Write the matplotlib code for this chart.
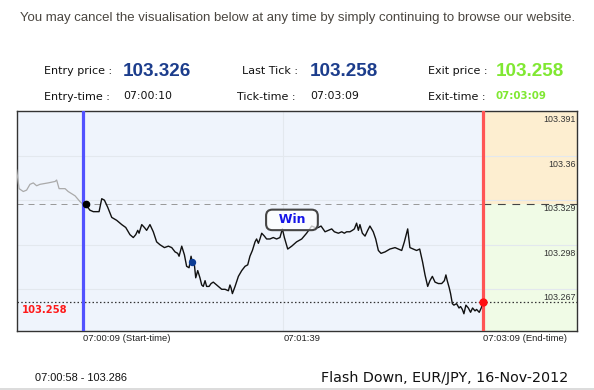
import matplotlib
matplotlib.use("Agg")
import matplotlib.pyplot as plt

# seconds relative to 07:00:09 (start-time)
pre_t = [-30.0, -28.9, -27.0, -25.5, -24.0, -22.5, -21.0, -19.5, -15.8, -12.7,
         -12.0, -10.9, -8.2, -6.8, -3.7, -1.5, 0.0]
pre_p = [103.350, 103.337, 103.335, 103.336, 103.340, 103.341, 103.339, 103.340,
         103.341, 103.342, 103.343, 103.337, 103.337, 103.335, 103.332, 103.328, 103.326]

tick_t = [1.0, 3.0, 4.5, 6.0, 7.1, 8.3, 9.5, 11.0, 12.8, 15.0, 16.5, 17.3, 19.1,
          21.0, 22.5, 23.6, 24.5, 25.1, 26.3, 27.5, 28.5, 30.0, 31.5, 33.0, 34.5,
          36.5, 38.3, 39.8, 41.3, 42.5, 43.1, 44.3, 45.5, 46.5, 47.6, 48.5, 49.0,
          50.0, 50.6, 51.5, 52.5, 53.3, 54.0, 54.8, 55.5, 56.6, 57.5, 58.5, 60.0,
          61.5, 62.3, 63.8, 65.3, 66.0, 66.5, 67.1, 68.3, 69.8, 71.3, 72.8, 74.0,
          75.0, 76.1, 77.3, 78.0, 78.8, 79.5, 80.3, 81.5, 82.5, 84.0, 85.5, 87.0,
          88.5, 89.6, 90.5, 92.0, 93.8, 96.0, 98.3, 100.5, 102.8, 104.3, 105.8,
          107.0, 108.8, 110.3, 111.8, 113.0, 114.8, 116.3, 117.5, 118.5, 120.0,
          121.1, 122.0, 123.0, 123.8, 124.5, 125.6, 126.8, 128.0, 129.0, 130.5,
          131.6, 132.8, 134.0, 135.8, 138.0, 140.3, 141.8, 143.3, 144.5, 146.0,
          147.0, 148.5, 150.0, 151.4, 152.7, 153.8, 155.0, 156.0, 157.1, 158.3,
          159.8, 161.3, 162.5, 163.2, 163.8, 164.7, 165.3, 166.1, 166.8, 168.0,
          169.1, 169.8, 170.6, 171.3, 172.2, 173.3, 174.3, 175.2, 176.3, 177.0,
          178.2, 179.1, 180.0]
tick_p = [103.326, 103.322, 103.321, 103.321, 103.321, 103.330, 103.329, 103.324,
          103.317, 103.315, 103.313, 103.312, 103.310, 103.305, 103.303, 103.305,
          103.308, 103.306, 103.312, 103.310, 103.308, 103.312, 103.307, 103.300,
          103.298, 103.296, 103.297, 103.296, 103.293, 103.292, 103.290, 103.297,
          103.291, 103.283, 103.282, 103.290, 103.286, 103.284, 103.275, 103.280,
          103.275, 103.270, 103.269, 103.273, 103.269, 103.269, 103.271, 103.272,
          103.270, 103.268, 103.267, 103.267, 103.266, 103.270, 103.268, 103.264,
          103.269, 103.276, 103.280, 103.283, 103.284, 103.290, 103.294, 103.300,
          103.302, 103.299, 103.302, 103.306, 103.304, 103.302, 103.302, 103.303,
          103.302, 103.303, 103.309, 103.303, 103.295, 103.297, 103.300, 103.302,
          103.306, 103.311, 103.310, 103.310, 103.311, 103.307, 103.308, 103.309,
          103.307, 103.306, 103.307, 103.306, 103.307, 103.307, 103.308, 103.309,
          103.313, 103.308, 103.312, 103.306, 103.304, 103.308, 103.311, 103.307,
          103.302, 103.294, 103.292, 103.293, 103.295, 103.296, 103.295, 103.294,
          103.300, 103.309, 103.296, 103.295, 103.294, 103.295, 103.286, 103.277,
          103.269, 103.273, 103.276, 103.272, 103.271, 103.271, 103.273, 103.277,
          103.273, 103.268, 103.264, 103.257, 103.256, 103.257, 103.254, 103.255,
          103.253, 103.250, 103.256, 103.254, 103.251, 103.254, 103.252, 103.253,
          103.251, 103.254, 103.258]

start_t, end_t = 0, 180
entry_t, entry_price, entry_time = 1, 103.326, "07:00:10"
exit_price, exit_time = 103.258, "07:03:09"
last_tick, tick_time = 103.258, "07:03:09"
hover_t, hover_p, hover_time = 49, 103.286, "07:00:58"

x_ticks = [0, 90, 180]
x_labels = ["07:00:09 (Start-time)", "07:01:39", "07:03:09 (End-time)"]
y_ticks = [103.267, 103.298, 103.329, 103.36, 103.391]
y_labels = ["103.267", "103.298", "103.329", "103.36", "103.391"]

W, H = 594, 390
fig = plt.figure(figsize=(W / 100, H / 100), dpi=100)
fig.patch.set_facecolor("white")
ax = fig.add_axes([17 / W, 1 - 331 / H, 560 / W, 220 / H])

x0, x1 = -29.84, 222.2
y0, y1 = 103.238, 103.391
ax.set_xlim(x0, x1)
ax.set_ylim(y0, y1)
ax.set_facecolor("#eff4fc")

# result zone after end-time
ax.fill_between([end_t, x1], entry_price, y1, color="#fdeed0", lw=0, zorder=0)
ax.fill_between([end_t, x1], y0, entry_price, color="#f0fbe6", lw=0, zorder=0)

for v in y_ticks:
    ax.axhline(v, color="#e3e8ee", lw=0.8, zorder=1)
ax.axvline(x_ticks[1], color="#e3e8ee", lw=0.8, zorder=1)

ax.plot([x0, end_t], [entry_price, entry_price], color="#9a9a9a", lw=0.72,
        ls=(0, (6, 5)), zorder=2)
ax.plot([end_t, x1], [entry_price, entry_price], color="#444444", lw=0.8,
        ls=(0, (7, 6)), zorder=2)
ax.axhline(exit_price, color="#333333", lw=0.9, ls=(0, (1.2, 1.8)), zorder=2)

ax.plot(pre_t, pre_p, color="#aaaaaa", lw=0.9, zorder=3)
ax.plot(tick_t, tick_p, color="#111111", lw=1.0, zorder=3)

ax.axvline(start_t, color="#5252ff", lw=2.3, zorder=4)
ax.axvline(end_t, color="#ff5454", lw=2.3, zorder=4)

ax.plot([entry_t], [entry_price], "o", color="black", ms=4.5, zorder=6)
ax.plot([hover_t], [hover_p], "o", color="#0c3c94", ms=4.3, zorder=6)
ax.plot([end_t], [exit_price], "o", color="#ff1010", ms=5, zorder=6)

ax.text(0.491, 0.505, "  Win  ", transform=ax.transAxes, ha="center", va="center",
        fontsize=9, fontweight="bold", color="#1515e8", zorder=7,
        bbox=dict(boxstyle="round,pad=0.3,rounding_size=0.5", fc=(1, 1, 1, 0.75),
                  ec="#454545", lw=1.5))

ax.text(0.0084, 0.095, "%.3f" % exit_price, transform=ax.transAxes, ha="left",
        va="center", fontsize=7.2, fontweight="bold", color="#ff1a1a", zorder=7)

for v, lab in zip(y_ticks, y_labels):
    ax.annotate(lab, (1, v), xycoords=("axes fraction", "data"),
                xytext=(-1, -3), textcoords="offset points", ha="right", va="top",
                fontsize=6.4, family="Liberation Sans", color="#333333", zorder=7)

ax.set_xticks(x_ticks)
ax.set_xticklabels(x_labels, ha="left", fontsize=6.8, family="Liberation Sans",
                   color="#222222")
ax.tick_params(axis="x", length=0, pad=2.5)
ax.set_yticks([])
for s in ax.spines.values():
    s.set_color("#333333")
    s.set_linewidth(1.0)


def ft(x, y, s, **kw):
    fig.text(x / W, 1 - y / H, s, va="center", **kw)


ft(297.5, 18, "You may cancel the visualisation below at any time by simply "
   "continuing to browse our website.", ha="center", fontsize=9.55,
   family="Liberation Sans", color="#4a4640")

lab_kw = dict(fontsize=8, color="#111111")
big_kw = dict(fontsize=13.6, family="Liberation Sans", fontweight="bold")
ft(43.5, 71, "Entry price :", **lab_kw)
ft(123, 72, "%.3f" % entry_price, color="#1c3d8c", **big_kw)
ft(242, 71, "Last Tick :", **lab_kw)
ft(310, 72, "%.3f" % last_tick, color="#1c3d8c", **big_kw)
ft(428, 71, "Exit price :", **lab_kw)
ft(496, 72, "%.3f" % exit_price, color="#80e832", **big_kw)

ft(44, 97, "Entry-time :", **lab_kw)
ft(123, 96, entry_time, fontsize=7.8, color="#111111")
ft(237, 97, "Tick-time :", **lab_kw)
ft(310, 96, tick_time, fontsize=7.8, color="#111111")
ft(428, 97, "Exit-time :", **lab_kw)
ft(496, 96, exit_time, fontsize=7.4, fontweight="bold", color="#80e832")

ft(35, 378, "%s - %.3f" % (hover_time, hover_p), fontsize=7.9,
   family="Liberation Sans", color="#111111")
ft(568, 378, "Flash Down, EUR/JPY, 16-Nov-2012", ha="right", fontsize=10.3,
   color="#111111")

fig.add_artist(plt.Line2D([0, 1], [1 - 389 / H] * 2, color="#d6d6d6", lw=1.2))

fig.savefig("out.png", dpi=100, facecolor="white")
